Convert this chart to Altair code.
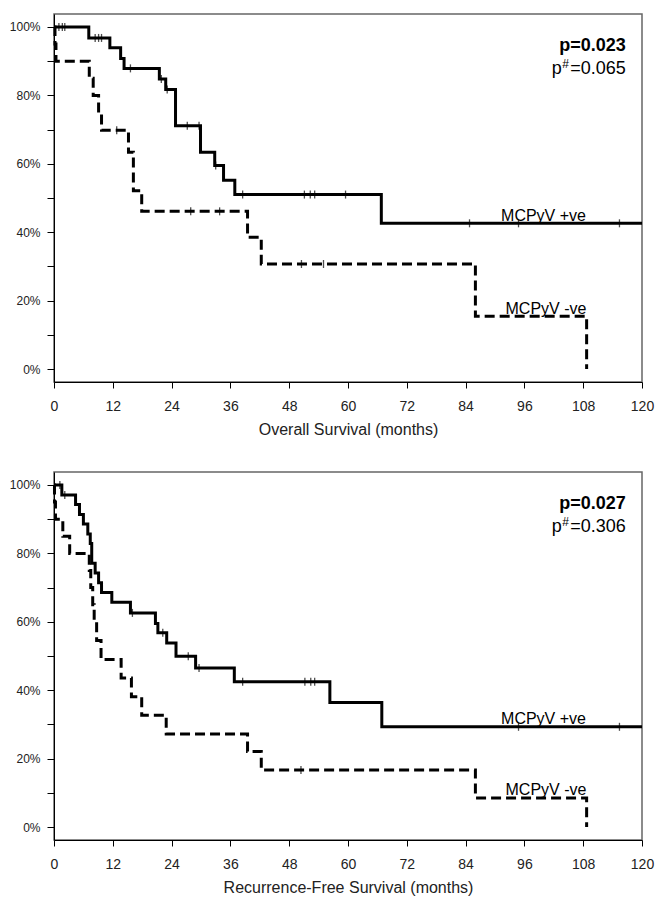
import altair as alt
import pandas as pd

# ---------------- data ----------------
MONTH_TICKS = [0, 12, 24, 36, 48, 60, 72, 84, 96, 108, 120]
PCT_TICKS = [0, 10, 20, 30, 40, 50, 60, 70, 80, 90, 100]

# Overall survival, MCPyV +ve (solid)
os_pos_times = [7.1, 11.4, 13.6, 14.3, 21.5, 22.8, 24.8, 29.9, 32.8, 34.6, 36.9, 66.8]
os_pos_surv = [96.8, 93.9, 90.8, 87.9, 84.8, 81.7, 71.1, 63.4, 59.5, 55.2, 51.0, 42.6]
os_pos_cens = [1.0, 1.7, 2.2, 8.4, 9.1, 9.7, 15.6, 21.9, 23.1, 27.2, 29.6, 33.0,
               38.5, 51.1, 52.3, 53.2, 59.5, 84.8, 94.8, 115.4]
# Overall survival, MCPyV -ve (dashed)
os_neg_times = [0.2, 0.4, 7.2, 8.0, 9.1, 9.7, 15.2, 16.2, 17.9, 39.5, 42.3, 86.0, 108.7]
os_neg_surv = [95.0, 90.0, 85.0, 80.0, 75.0, 69.8, 63.4, 52.1, 46.1, 38.5, 30.7, 15.4, 0.0]
os_neg_cens = [12.8, 27.9, 33.8, 50.5, 55.0]

# Recurrence-free survival, MCPyV +ve (solid)
rfs_pos_times = [1.6, 4.4, 5.2, 6.0, 6.9, 7.4, 7.7, 8.4, 9.1, 9.7, 11.8, 15.6, 20.7,
                 21.2, 23.0, 24.9, 28.9, 36.8, 56.3, 66.9]
rfs_pos_surv = [97.1, 94.3, 91.4, 88.6, 85.7, 82.9, 77.1, 74.3, 71.4, 68.6, 65.7, 62.6,
                59.5, 56.8, 53.8, 49.9, 46.5, 42.5, 36.4, 29.3]
rfs_pos_cens = [1.2, 2.2, 16.0, 22.2, 27.4, 29.6, 38.5, 51.2, 52.4, 53.2, 94.8, 115.4]
# Recurrence-free survival, MCPyV -ve (dashed)
rfs_neg_times = [0.1, 0.3, 1.8, 3.2, 7.2, 7.5, 7.9, 8.2, 8.7, 9.6, 13.7, 15.8, 17.9,
                 22.9, 39.5, 42.3, 86.0, 108.7]
rfs_neg_surv = [95.0, 90.0, 85.0, 80.0, 75.0, 70.0, 65.0, 60.0, 54.5, 49.0, 43.6, 38.1,
                32.7, 27.2, 22.1, 16.7, 8.5, 0.0]
rfs_neg_cens = [50.4]

os_p_main, os_p_hash = "p=0.023", "=0.065"
rfs_p_main, rfs_p_hash = "p=0.027", "=0.306"
group_labels = ["MCPyV +ve", "MCPyV -ve"]
x_titles = ["Overall Survival (months)", "Recurrence-Free Survival (months)"]

# annotation anchors (data units)
P_X = 116.7
P_Y1 = 93.1
P_Y2 = 86.4
LAB_X_POS = 99.9
LAB_X_NEG = 100.4

FONT = "Liberation Sans"


def steps(times, surv, end=None):
    m = [0.0] + list(times)
    s = [100.0] + list(surv)
    if end is not None:
        m.append(end)
        s.append(surv[-1])
    return pd.DataFrame({"month": m, "surv": s})


def censor_df(times, surv, cens):
    lv = []
    for c in cens:
        v = 100.0
        for t, s in zip(times, surv):
            if t <= c:
                v = s
        lv.append(v)
    return pd.DataFrame({"month": list(cens), "surv": lv})


def panel(pos_t, pos_s, pos_c, neg_t, neg_s, neg_c, p_main, p_hash, xtitle):
    x = alt.X(
        "month:Q",
        scale=alt.Scale(domain=[0, 120], nice=False, zero=False),
        axis=alt.Axis(values=MONTH_TICKS, title=xtitle, grid=False, labelFlush=False,
                      tickSize=6, labelPadding=11, labelFontSize=14, titleFontSize=16,
                      titleFontWeight="normal", titlePadding=8),
    )
    y = alt.Y(
        "surv:Q",
        scale=alt.Scale(domain=[-3.8, 103.8], nice=False, zero=False),
        axis=alt.Axis(values=PCT_TICKS, grid=False, tickSize=7, labelPadding=7,
                      labelFontSize=12,
                      labelExpr="datum.value % 20 == 0 ? datum.value + '%' : ''"),
        title=None,
    )
    solid = alt.Chart(steps(pos_t, pos_s, 120)).mark_line(
        interpolate="step-after", color="black", strokeWidth=3
    ).encode(x=x, y=y)
    dashed = alt.Chart(steps(neg_t, neg_s)).mark_line(
        interpolate="step-after", color="black", strokeWidth=3, strokeDash=[10, 5]
    ).encode(x=x, y=y)
    cens = alt.Chart(
        pd.concat([censor_df(pos_t, pos_s, pos_c), censor_df(neg_t, neg_s, neg_c)])
    ).mark_tick(orient="vertical", size=8, thickness=1.3, color="black").encode(x=x, y=y)

    lab_df = pd.DataFrame({
        "month": [LAB_X_POS, LAB_X_NEG],
        "surv": [pos_s[-1], neg_s[-2]],
        "label": group_labels,
    })
    labels = alt.Chart(lab_df).mark_text(
        font=FONT, fontSize=16, align="center", baseline="alphabetic", dy=-2.5, color="black"
    ).encode(x=x, y=y, text="label:N")

    pm = alt.Chart(pd.DataFrame({"month": [P_X], "surv": [P_Y1], "label": [p_main]})).mark_text(
        font=FONT, fontSize=18, fontWeight="bold", align="right", baseline="alphabetic", color="black"
    ).encode(x=x, y=y, text="label:N")
    ph = alt.Chart(pd.DataFrame({"month": [P_X], "surv": [P_Y2], "label": [p_hash]})).mark_text(
        font=FONT, fontSize=18, align="right", baseline="alphabetic", color="black"
    ).encode(x=x, y=y, text="label:N")
    hash_ = alt.Chart(pd.DataFrame({"month": [P_X], "surv": [P_Y2], "label": ["#"]})).mark_text(
        font=FONT, fontSize=12, align="right", baseline="alphabetic", dx=-57, dy=-6, color="black"
    ).encode(x=x, y=y, text="label:N")
    pp = alt.Chart(pd.DataFrame({"month": [P_X], "surv": [P_Y2], "label": ["p"]})).mark_text(
        font=FONT, fontSize=18, align="right", baseline="alphabetic", dx=-64, color="black"
    ).encode(x=x, y=y, text="label:N")

    return alt.layer(solid, dashed, cens, labels, pm, ph, hash_, pp).properties(
        width=588, height=368
    )


top = panel(os_pos_times, os_pos_surv, os_pos_cens, os_neg_times, os_neg_surv, os_neg_cens,
            os_p_main, os_p_hash, x_titles[0])
bottom = panel(rfs_pos_times, rfs_pos_surv, rfs_pos_cens, rfs_neg_times, rfs_neg_surv,
               rfs_neg_cens, rfs_p_main, rfs_p_hash, x_titles[1])

chart = alt.vconcat(top, bottom, spacing=90, bounds="flush").properties(
    padding={"left": 0, "top": 5, "right": 0, "bottom": 0}
).configure_view(
    stroke="#666666", strokeWidth=1.5
).configure_axis(
    labelFont=FONT, titleFont=FONT, labelColor="#222222", titleColor="#222222",
    domainColor="black", tickColor="black", domainWidth=1, tickWidth=1
)

chart.save("out.html", embed_options={"renderer": "svg", "actions": False})
